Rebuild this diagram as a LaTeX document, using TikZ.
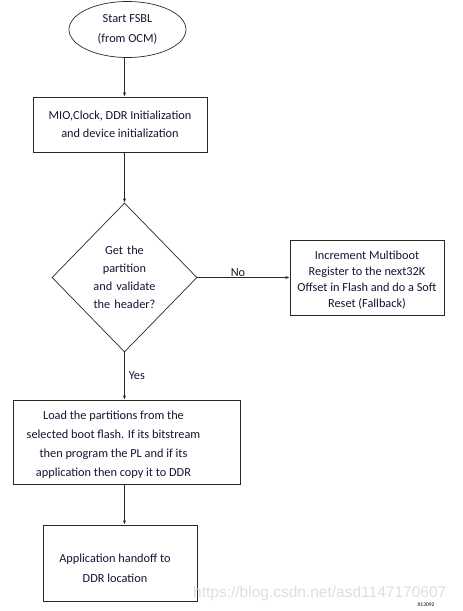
\documentclass[tikz,border=0pt]{standalone}
\usepackage{fontspec}
\setmainfont{Carlito}
\newfontfamily\wmfont{Liberation Sans}
\usetikzlibrary{shapes.geometric,arrows.meta}
\definecolor{txt}{RGB}{20,20,50}
\definecolor{ln}{RGB}{40,40,40}
\definecolor{wm}{RGB}{222,222,222}
\begin{document}
\begin{tikzpicture}[x=1pt,y=-1pt,
  every node/.style={text=txt,font=\fontsize{12.3}{18}\selectfont},
  proc/.style={draw=ln,line width=0.7pt,rectangle,inner sep=0pt,align=center},
  term/.style={draw=ln,line width=0.7pt,ellipse,inner sep=0pt,align=center},
  decn/.style={draw=ln,line width=0.7pt,diamond,inner sep=0pt,align=center},
  conn/.style={draw=ln,line width=0.7pt,-{Latex[length=4pt,width=3pt]}},
  txtnode/.style={inner sep=0pt,align=center},
  lbl/.style={inner sep=1pt}]
\useasboundingbox (0,0) rectangle (463,611);
\node[term,minimum width=117,minimum height=56,font=\fontsize{12.3}{20}\selectfont] (start) at (127.5,29.5) {Start FSBL\\(from OCM)};
\node[proc,minimum width=174,minimum height=55] (init) at (120,124.5) {MIO,Clock, DDR Initialization\\and device initialization};
\node[decn,minimum width=145,minimum height=149,text width=10pt] (dec) at (124.5,277.5) {\makebox[0pt]{Get the}\\\makebox[0pt]{partition}\\\makebox[0pt]{and validate}\\\makebox[0pt]{the header?}};
\node[proc,minimum width=154,minimum height=75] (fall) at (367,277.5) {};
\node[txtnode,font=\fontsize{12.3}{16}\selectfont] (fallt) at (367,280.5) {Increment Multiboot\\Register to the next32K\\Offset in Flash and do a Soft\\Reset (Fallback)};
\node[proc,minimum width=227,minimum height=84] (load) at (126.5,442) {};
\node[txtnode,font=\fontsize{12.3}{19}\selectfont] (loadt) at (113.5,445) {Load the partitions from the\\selected boot flash. If its bitstream\\then program the PL and if its\\application then copy it to DDR};
\node[proc,minimum width=154,minimum height=76] (hand) at (120,563) {};
\node[txtnode,font=\fontsize{12.3}{20}\selectfont] (handt) at (115,568) {Application handoff to\\DDR location};
\draw[conn] (start.south -| dec.north) -- (dec.north |- init.north);
\draw[conn] (dec.north |- init.south) -- (dec.north);
\draw[conn] (dec.east) -- (fall.west |- dec.east) node[lbl,pos=0.44,above] (no) {No};
\draw[conn] (dec.south) -- (dec.south |- load.north) node[lbl,pos=0.5,right=3pt] (yes) {Yes};
\draw[conn] (dec.south |- load.south) -- (dec.south |- hand.north);
\node[text=wm,font=\wmfont\fontsize{15.5}{16}\selectfont,anchor=west,inner sep=0pt] (wmark) at (193,593) {https://blog.csdn.net/asd1147170607};
\node[text=black,font=\fontsize{5.5}{6}\selectfont,inner sep=0pt] (code) at (426,605) {X13092};
\end{tikzpicture}
\end{document}
